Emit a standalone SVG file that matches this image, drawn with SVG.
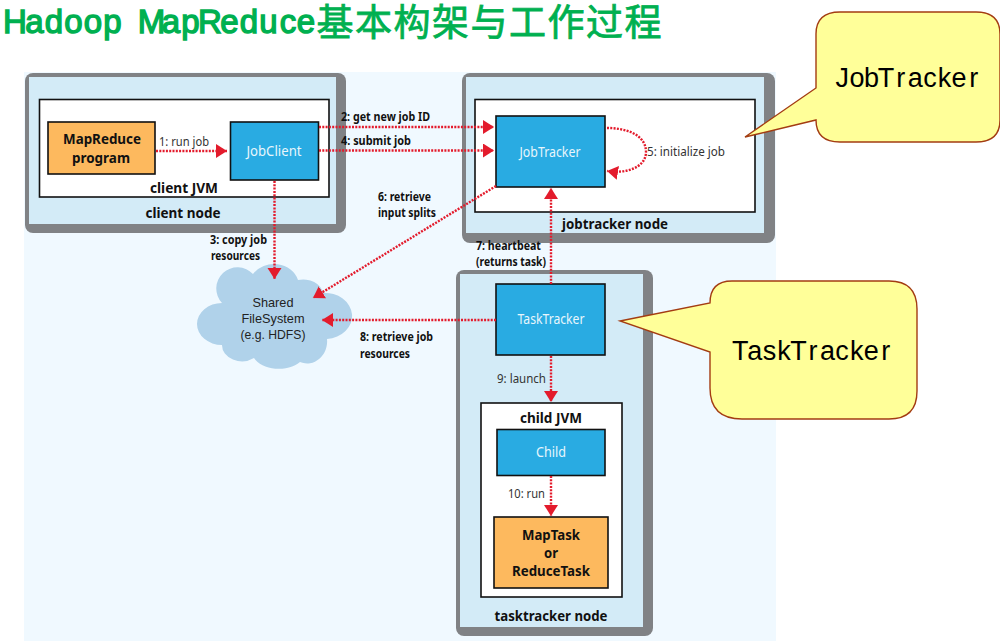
<svg xmlns="http://www.w3.org/2000/svg" width="1000" height="641" viewBox="0 0 1000 641">
<defs>
<marker id="ah" markerUnits="userSpaceOnUse" markerWidth="12" markerHeight="15" refX="11" refY="7" orient="auto"><path d="M0 0L11 7L0 14Z" fill="#e31b2c"/></marker>
</defs>
<style>
text{font-family:"Noto Sans","Liberation Sans",sans-serif}
.outer{fill:#808285}
.inner{fill:#d3ebf7}
.jvm{fill:#fff;stroke:#111;stroke-width:1.6}
.blue{fill:#29abe2;stroke:#111;stroke-width:1.6}
.orange{fill:#fdb95e;stroke:#111;stroke-width:1.6}
.b{font-size:15px;font-weight:700;fill:#111;text-anchor:middle}
.w{font-size:15px;fill:#e8f6fc;text-anchor:middle}
.l{font-size:12px;fill:#333}
.k{font-size:12px;font-weight:700;fill:#111}
.c{font-family:"Liberation Sans",sans-serif;font-size:13.500px;fill:#222;text-anchor:middle}
.conn{fill:none;stroke:#e31b2c;stroke-width:2.4;stroke-dasharray:2 1.3}
.call{fill:#ffff99;stroke:#a33c12;stroke-width:1.4}
.ct{font-family:"Liberation Sans",sans-serif;font-size:27px;fill:#000;text-anchor:middle}
.title{fill:#00b050;stroke:#00b050;stroke-width:1.4;text-anchor:middle}
</style>
<rect width="1000" height="641" fill="#fff"/>
<rect x="24" y="72" width="752" height="569" fill="#f0f9ff"/>
<text class="title" y="33" font-size="33" style="font-family:'Liberation Sans',sans-serif" x="15 34.500 54 73.500 93 112.500 132 151.500 171 190.500 210 229.500 249 268.500 288 306">Hadoop MapReduce</text>
<text class="title" y="36" font-size="37" style="font-family:'Noto Sans CJK SC',sans-serif;stroke-width:.8" x="335 373.500 412 450.500 489 527.500 566 604.500 643">基本构架与工作过程</text>

<g id="client-node">
<rect class="outer" x="25" y="73" width="321" height="160" rx="8"/>
<rect class="inner" x="29" y="77" width="307" height="147"/>
<rect class="jvm" x="39.500" y="99.500" width="289.500" height="97.500"/>
<text class="b" x="184" y="193" textLength="68" lengthAdjust="spacingAndGlyphs">client JVM</text>
<text class="b" x="183" y="218" textLength="75" lengthAdjust="spacingAndGlyphs">client node</text>
</g>
<g id="mapreduce-program">
<rect class="orange" x="48" y="122" width="107" height="52"/>
<text class="b" x="102" y="144" textLength="78" lengthAdjust="spacingAndGlyphs">MapReduce</text>
<text class="b" x="101" y="163" textLength="58" lengthAdjust="spacingAndGlyphs">program</text>
</g>
<g id="jobclient">
<rect class="blue" x="230.500" y="122" width="88" height="58"/>
<text class="w" x="274" y="156" textLength="55" lengthAdjust="spacingAndGlyphs">JobClient</text>
</g>

<g id="jobtracker-node">
<rect class="outer" x="462" y="73" width="313" height="170" rx="8"/>
<rect class="inner" x="466" y="77" width="298" height="156"/>
<rect class="jvm" x="475" y="99.500" width="280" height="112.500"/>
<text class="b" x="615" y="229" textLength="106" lengthAdjust="spacingAndGlyphs">jobtracker node</text>
</g>
<g id="jobtracker">
<rect class="blue" x="496" y="116" width="109" height="71"/>
<text class="w" x="550" y="157" textLength="61" lengthAdjust="spacingAndGlyphs">JobTracker</text>
</g>

<g id="tasktracker-node">
<rect class="outer" x="456" y="270" width="197" height="366" rx="8"/>
<rect class="inner" x="460" y="274" width="183" height="353"/>
<text class="b" x="551" y="621" textLength="113" lengthAdjust="spacingAndGlyphs">tasktracker node</text>
</g>
<g id="tasktracker">
<rect class="blue" x="496" y="284" width="109" height="71"/>
<text class="w" x="551" y="324" textLength="67" lengthAdjust="spacingAndGlyphs">TaskTracker</text>
</g>
<g id="child-jvm">
<rect class="jvm" x="481" y="403" width="141" height="194"/>
<text class="b" x="551" y="423" textLength="62" lengthAdjust="spacingAndGlyphs">child JVM</text>
</g>
<g id="child">
<rect class="blue" x="497" y="429.500" width="108" height="46"/>
<text class="w" x="551" y="457" textLength="30" lengthAdjust="spacingAndGlyphs">Child</text>
</g>
<g id="maptask">
<rect class="orange" x="494" y="517" width="114" height="71"/>
<text class="b" x="551" y="540" textLength="58" lengthAdjust="spacingAndGlyphs">MapTask</text>
<text class="b" x="551" y="558" textLength="14" lengthAdjust="spacingAndGlyphs">or</text>
<text class="b" x="551" y="576" textLength="78" lengthAdjust="spacingAndGlyphs">ReduceTask</text>
</g>

<g id="shared-filesystem">
<path d="M222 303A18 18 0 0 1 253 274A25 22 0 0 1 298 280A20 16 0 0 1 323 293A27 23 0 0 1 327 339A20 22 0 0 1 300 362A27 18 0 0 1 254 358A20 16 0 0 1 222 345A25 21 0 0 1 222 303Z" fill="#b0d2ea"/>
<text class="c" x="273" y="307" textLength="41" lengthAdjust="spacingAndGlyphs">Shared</text>
<text class="c" x="273" y="323" textLength="63" lengthAdjust="spacingAndGlyphs">FileSystem</text>
<text class="c" x="273" y="339" textLength="65" lengthAdjust="spacingAndGlyphs">(e.g. HDFS)</text>
</g>

<g id="connectors">
<path class="conn" d="M156 151H227" marker-end="url(#ah)"/>
<path class="conn" d="M319 127H494" marker-end="url(#ah)"/>
<path class="conn" d="M319 150.500H494" marker-end="url(#ah)"/>
<path class="conn" d="M274.500 181V279" marker-end="url(#ah)"/>
<path class="conn" d="M496 186L313 298" marker-end="url(#ah)"/>
<path class="conn" d="M607 128C625 128 646 134 646 152C646 168 625 174 607 171" marker-end="url(#ah)"/>
<path class="conn" d="M551 284V188" marker-end="url(#ah)"/>
<path class="conn" d="M496 320H322" marker-end="url(#ah)"/>
<path class="conn" d="M551 356V402" marker-end="url(#ah)"/>
<path class="conn" d="M551 476V516" marker-end="url(#ah)"/>
</g>

<g id="connector-labels">
<text class="l" x="159" y="146" textLength="50" lengthAdjust="spacingAndGlyphs">1: run job</text>
<text class="k" x="341" y="121" textLength="89" lengthAdjust="spacingAndGlyphs">2: get new job ID</text>
<text class="k" x="341" y="145" textLength="70" lengthAdjust="spacingAndGlyphs">4: submit job</text>
<text class="k" x="210" y="244" textLength="57" lengthAdjust="spacingAndGlyphs">3: copy job</text>
<text class="k" x="211" y="260" textLength="49" lengthAdjust="spacingAndGlyphs">resources</text>
<text class="k" x="378" y="201" textLength="53" lengthAdjust="spacingAndGlyphs">6: retrieve</text>
<text class="k" x="378" y="217" textLength="58" lengthAdjust="spacingAndGlyphs">input splits</text>
<text class="l" x="647" y="156" textLength="78" lengthAdjust="spacingAndGlyphs">5: initialize job</text>
<text class="k" x="476" y="250" textLength="65" lengthAdjust="spacingAndGlyphs">7: heartbeat</text>
<text class="k" x="476" y="266" textLength="70" lengthAdjust="spacingAndGlyphs">(returns task)</text>
<text class="k" x="360" y="341" textLength="73" lengthAdjust="spacingAndGlyphs">8: retrieve job</text>
<text class="k" x="360" y="358" textLength="50" lengthAdjust="spacingAndGlyphs">resources</text>
<text class="l" x="497" y="383" textLength="49" lengthAdjust="spacingAndGlyphs">9: launch</text>
<text class="l" x="508" y="498" textLength="37" lengthAdjust="spacingAndGlyphs">10: run</text>
</g>

<g id="jobtracker-callout">
<path class="call" d="M816 34Q816 12 840 12H976Q1000 12 1000 34V120Q1000 142 976 142H840Q816 142 816 120L745 137L816 88Z"/>
<text class="ct" y="87" x="842.300 856.900 871.500 886.100 900.700 915.300 929.900 944.500 959.100 973.700">JobTracker</text>
</g>
<g id="tasktracker-callout">
<path class="call" d="M710 303Q710 281 732 281H889Q917 281 917 309V391Q917 419 889 419H742Q710 419 710 388V352L620 321Z"/>
<text class="ct" y="360" x="740.300 754.800 769.400 783.900 798.500 813 827.600 842.100 856.700 871.200 885.800">TaskTracker</text>
</g>
</svg>
